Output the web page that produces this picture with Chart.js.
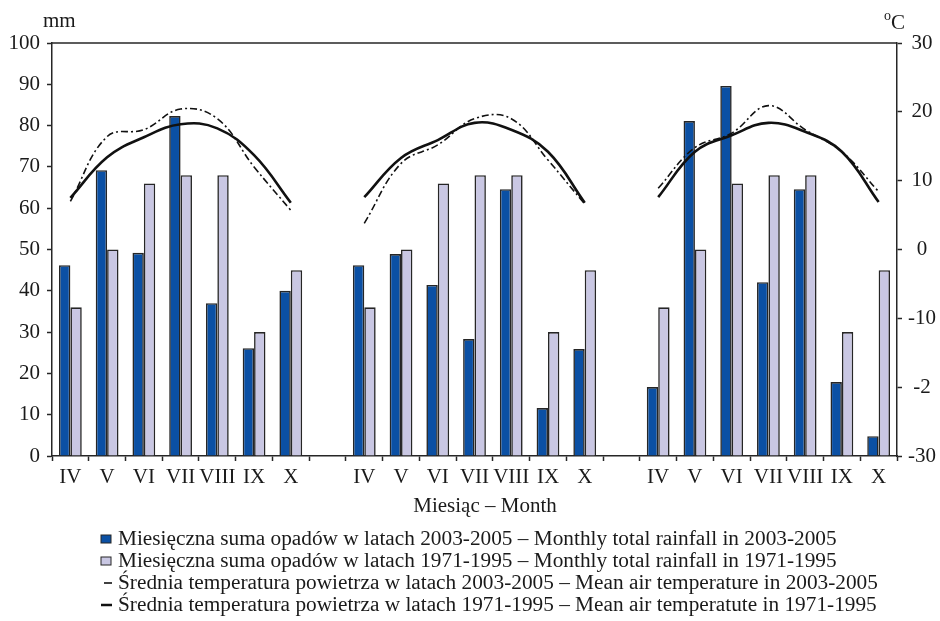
<!DOCTYPE html>
<html>
<head>
<meta charset="utf-8">
<script src="https://cdn.jsdelivr.net/npm/chart.js@4"></script>
<style>
  html, body { margin: 0; padding: 0; background: #fff; }
  #wrap { width: 940px; height: 621px; }
</style>
</head>
<body>
<div id="wrap"><canvas id="chart" width="940" height="621"></canvas></div>
<script>
const months = ['IV', 'V', 'VI', 'VII', 'VIII', 'IX', 'X'];

// rainfall 2003-2005 [mm], one array per panel
const rainNew1 = [46.2, 69.2, 49.2, 82.3, 37.0, 26.1, 40.0];
const rainNew2 = [46.2, 48.9, 41.4, 28.3, 64.6, 11.6, 25.9];
const rainNew3 = [16.7, 81.1, 89.6, 42.1, 64.6, 17.9, 4.8];

// rainfall 1971-1995 [mm]
const rainOld1 = [36, 50, 66, 68, 68, 30, 45];
const rainOld2 = [36, 50, 66, 68, 68, 30, 45];
const rainOld3 = [36, 50, 66, 68, 68, 30, 45];

// mean temperature 2003-2005 [°C]
const tempNew1 = [7.0, 16.4, 17.4, 20.4, 19.0, 12.0, 5.7];
const tempNew2 = [3.8, 12.5, 15.2, 19.0, 19.0, 13.0, 6.6];
const tempNew3 = [8.9, 14.8, 16.9, 20.9, 17.4, 14.2, 8.4];

// mean temperature 1971-1995 [°C]
const tempOld1 = [7.5, 13.4, 16.3, 18.2, 17.6, 13.7, 6.8];
const tempOld2 = [7.6, 13.3, 15.9, 18.4, 17.4, 14.2, 6.8];
const tempOld3 = [7.6, 14.2, 16.6, 18.4, 17.1, 14.2, 6.9];

const tempTickLabels = ['-30', '-2', '-10', '0', '10', '20', '30'];

const seriesNames = [
  'Miesięczna suma opadów w latach 2003-2005 – Monthly total rainfall in 2003-2005',
  'Miesięczna suma opadów w latach 1971-1995 – Monthly total rainfall in 1971-1995',
  'Średnia temperatura powietrza w latach 2003-2005 – Mean air temperature in 2003-2005',
  'Średnia temperatura powietrza w latach 1971-1995 – Mean air temperatute in 1971-1995'
];

// three panels separated by one empty slot
const join3 = (a, b, c) => [...a, null, ...b, null, ...c];
const labels = join3(months, months, months).map(l => l === null ? '' : l);

const DARK = '#0b50a4';
const LIGHT = '#c9c7e3';
const EDGE = '#262626';
const FONT = "'Liberation Serif', 'DejaVu Serif', serif";

const decor = {
  id: 'decor',
  afterDraw(chart) {
    const { ctx, chartArea: a } = chart;
    ctx.save();
    ctx.strokeStyle = EDGE;
    ctx.lineWidth = 1.5;
    ctx.beginPath();
    ctx.moveTo(a.left, a.top);
    ctx.lineTo(a.right, a.top);
    ctx.stroke();

    ctx.fillStyle = '#1a1a1a';
    ctx.textBaseline = 'alphabetic';
    ctx.font = `21px ${FONT}`;
    ctx.textAlign = 'left';
    ctx.fillText('mm', 43, 27);
    ctx.fillText('C', 891, 29);
    ctx.font = `14px ${FONT}`;
    ctx.fillText('o', 884, 20);

    ctx.font = `21px ${FONT}`;
    ctx.textAlign = 'center';
    ctx.fillText('Miesiąc – Month', 485, 512);

    // legend
    const rows = [545, 567, 589, 611];
    ctx.textAlign = 'left';
    ctx.font = `21.3px ${FONT}`;
    seriesNames.forEach((name, i) => {
      const y = rows[i];
      ctx.save();
      if (i < 2) {
        ctx.fillStyle = i === 0 ? DARK : LIGHT;
        ctx.strokeStyle = EDGE;
        ctx.lineWidth = 1;
        ctx.fillRect(101, y - 10, 10, 8);
        ctx.strokeRect(101, y - 10, 10, 8);
      } else {
        ctx.strokeStyle = '#111';
        ctx.lineWidth = i === 2 ? 1.6 : 2.5;
        ctx.beginPath();
        ctx.moveTo(i === 2 ? 104 : 101, y - 6);
        ctx.lineTo(112, y - 6);
        ctx.stroke();
      }
      ctx.restore();
      ctx.fillStyle = '#1a1a1a';
      ctx.fillText(name, 118, y);
    });
    ctx.restore();
  }
};

const axisGrid = { drawOnChartArea: false, drawTicks: true, tickLength: 5, tickColor: EDGE, tickWidth: 1.5 };
const axisBorder = { display: true, color: EDGE, width: 1.5 };

new Chart(document.getElementById('chart'), {
  type: 'bar',
  data: {
    labels,
    datasets: [
      {
        type: 'line', label: seriesNames[2], yAxisID: 'y2', order: 0,
        data: join3(tempNew1, tempNew2, tempNew3),
        borderColor: '#111', borderWidth: 1.6, borderDash: [7, 3, 2, 3],
        tension: 0.4, pointRadius: 0, spanGaps: false, fill: false
      },
      {
        type: 'line', label: seriesNames[3], yAxisID: 'y2', order: 0,
        data: join3(tempOld1, tempOld2, tempOld3),
        borderColor: '#111', borderWidth: 2.6,
        tension: 0.4, pointRadius: 0, spanGaps: false, fill: false
      },
      {
        label: seriesNames[0], yAxisID: 'y', order: 1,
        data: join3(rainNew1, rainNew2, rainNew3),
        backgroundColor: DARK, borderColor: EDGE, borderWidth: 1.6,
        categoryPercentage: 0.62, barPercentage: 1
      },
      {
        label: seriesNames[1], yAxisID: 'y', order: 1,
        data: join3(rainOld1, rainOld2, rainOld3),
        backgroundColor: LIGHT, borderColor: EDGE, borderWidth: 1.6,
        categoryPercentage: 0.62, barPercentage: 1
      }
    ]
  },
  options: {
    responsive: false,
    animation: false,
    layout: { padding: { top: 43, left: 0, right: 0, bottom: 0 } },
    plugins: { legend: { display: false }, tooltip: { enabled: false } },
    scales: {
      x: {
        grid: { ...axisGrid, offset: true },
        border: axisBorder,
        ticks: { color: '#1a1a1a', font: { family: FONT, size: 21 }, autoSkip: false, maxRotation: 0, padding: 4 },
        afterFit: s => { s.height = 165; }
      },
      y: {
        position: 'left', min: 0, max: 100,
        grid: axisGrid, border: axisBorder,
        ticks: { stepSize: 10, color: '#1a1a1a', font: { family: FONT, size: 21 }, padding: 7 },
        afterFit: s => { s.width = 52; }
      },
      y2: {
        position: 'right', min: -30, max: 30,
        grid: axisGrid, border: axisBorder,
        ticks: {
          stepSize: 10, color: '#1a1a1a', font: { family: FONT, size: 21 }, padding: 6,
          crossAlign: 'center',
          callback: (v, i) => tempTickLabels[i]
        },
        afterFit: s => { s.width = 43; }
      }
    }
  },
  plugins: [decor]
});
</script>
</body>
</html>
